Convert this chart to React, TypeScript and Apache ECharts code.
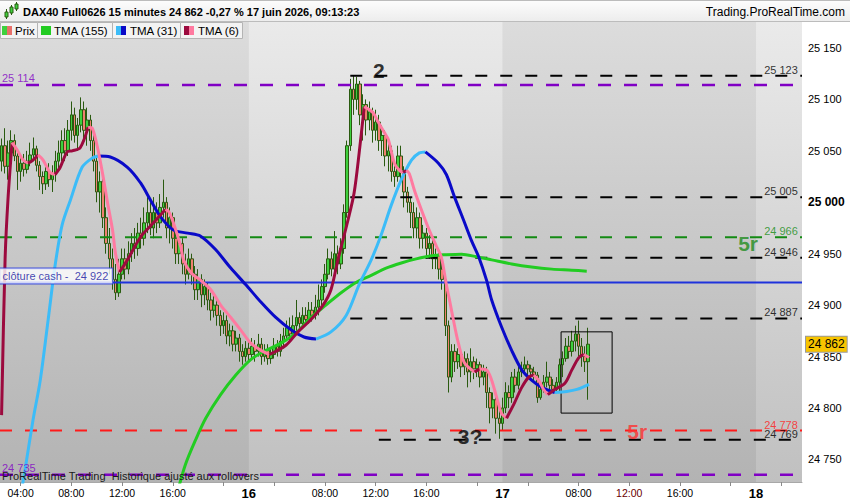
import React, { useEffect, useRef } from 'react';
import * as echarts from 'echarts';

const FONT = '"Liberation Sans", Arial, Helvetica, sans-serif';

const titleText = 'DAX40 Full0626 15 minutes 24 862 -0,27 % 17 juin 2026, 09:13:23';
const siteText = 'Trading.ProRealTime.com';
const footerText = 'ProRealTime Trading  Historique ajusté aux rollovers';
const legendNames = ['Prix', 'TMA (155)', 'TMA (31)', 'TMA (6)'];

// time axis
const dayNames = ['15', '16', '17', '18'];
const darkDays = ['15', '17'];
const firstDayStart = '02:30';
const sessionStart = '02:00';
const sessionEnd = '21:45';
const slotCount = 253;
const firstDayLabelTimes = ['04:00', '08:00', '12:00', '16:00'];
const labelTimes = ['08:00', '12:00', '16:00'];
const tickTimes = ['04:00', '08:00', '12:00', '16:00', '20:00'];
const highlightedSlot = '17 12:00';

// price axis
const yMin = 24728;
const yMax = 25175.3;
const yStep = 50;
const boldTick = 25000;

// candles: [open, close, low, high]
const candles = [
  [25040,25055,25030,25062],[25055,25035,25028,25072],[25035,25048,25022,25060],[25048,25060,25040,25070],[25060,25045,25040,25066],
  [25045,25030,25012,25050],[25030,25038,25020,25045],[25038,25032,25025,25047],[25032,25040,25028,25050],[25040,25046,25035,25058],
  [25046,25052,25040,25063],[25052,25036,25030,25055],[25036,25025,25012,25040],[25025,25018,25008,25030],[25018,25030,25012,25035],
  [25030,25022,25015,25038],[25022,25028,25010,25036],[25028,25040,25020,25050],[25040,25048,25032,25060],[25048,25060,25040,25070],
  [25060,25050,25040,25072],[25050,25070,25045,25080],[25070,25085,25060,25098],[25085,25065,25058,25092],[25065,25075,25050,25082],
  [25075,25090,25068,25102],[25090,25070,25060,25098],[25070,25080,25055,25092],[25080,25060,25050,25085],[25060,25040,25030,25068],
  [25040,25010,25000,25045],[25010,25020,24990,25030],[25020,24985,24975,25025],[24985,24960,24950,24995],[24960,24945,24930,24975],
  [24945,24925,24915,24955],[24925,24912,24905,24940],[24912,24930,24908,24945],[24930,24945,24925,24955],[24945,24935,24925,24955],
  [24935,24950,24930,24962],[24950,24960,24942,24970],[24960,24955,24945,24975],[24955,24970,24948,24980],[24970,24965,24955,24985],
  [24965,24980,24958,24995],[24980,24990,24970,25005],[24990,24975,24968,25000],[24975,24990,24965,25005],[24990,24980,24970,25000],
  [24980,24995,24975,25008],[24995,25000,24985,25022],[25000,24975,24965,25005],[24975,24985,24960,24995],[24985,24965,24955,24990],
  [24965,24950,24940,24975],[24950,24960,24940,24968],[24960,24940,24930,24965],[24940,24930,24920,24950],[24930,24945,24925,24955],
  [24945,24930,24920,24950],[24930,24915,24905,24938],[24915,24925,24905,24935],[24925,24910,24898,24930],[24910,24918,24900,24925],
  [24918,24905,24895,24922],[24905,24895,24885,24912],[24895,24900,24888,24910],[24900,24890,24880,24908],[24890,24880,24870,24895],
  [24880,24885,24872,24893],[24885,24870,24862,24890],[24870,24875,24860,24882],[24875,24862,24855,24880],[24862,24868,24855,24875],
  [24868,24855,24845,24872],[24855,24850,24842,24862],[24850,24858,24845,24865],[24858,24852,24845,24865],[24852,24860,24848,24868],
  [24860,24855,24845,24866],[24855,24862,24850,24872],[24862,24850,24842,24868],[24850,24856,24845,24862],[24856,24848,24842,24862],
  [24848,24852,24843,24858],[24852,24860,24848,24868],[24860,24855,24850,24866],[24855,24865,24850,24872],[24865,24870,24858,24878],
  [24870,24878,24865,24885],[24878,24872,24866,24888],[24872,24880,24868,24890],[24880,24888,24875,24905],[24888,24882,24875,24893],
  [24882,24890,24878,24898],[24890,24886,24880,24898],[24886,24895,24882,24903],[24895,24890,24884,24903],[24890,24898,24886,24910],
  [24898,24905,24890,24920],[24905,24918,24900,24925],[24918,24930,24912,24940],[24930,24945,24925,24955],[24945,24935,24928,24952],
  [24935,24950,24930,24972],[24950,24940,24930,24958],[24940,24955,24935,24965],[24955,24990,24950,24998],[24990,25055,24985,25060],
  [25055,25110,25050,25120],[25110,25100,25085,25123],[25100,25115,25090,25122],[25115,25085,25075,25118],[25085,25095,25060,25105],
  [25095,25080,25065,25100],[25080,25088,25070,25098],[25088,25070,25058,25092],[25070,25078,25060,25090],[25078,25060,25050,25085],
  [25060,25065,25045,25075],[25065,25045,25035,25070],[25045,25050,25030,25060],[25050,25030,25020,25055],[25030,25025,25015,25040],
  [25025,25045,25020,25055],[25045,25030,25020,25055],[25030,25010,24995,25035],[25010,25000,24990,25015],[25000,24990,24975,25005],
  [24990,24975,24965,25000],[24975,24985,24965,24995],[24985,24965,24955,24990],[24965,24970,24955,24978],[24970,24955,24945,24975],
  [24955,24960,24945,24968],[24960,24945,24935,24965],[24945,24948,24935,24955],[24948,24935,24925,24952],[24935,24925,24915,24945],
  [24925,24880,24870,24930],[24880,24830,24815,24885],[24830,24855,24825,24862],[24855,24845,24835,24862],[24845,24852,24838,24858],
  [24852,24840,24830,24857],[24840,24848,24832,24855],[24848,24835,24820,24853],[24835,24845,24825,24858],[24845,24838,24828,24850],
  [24838,24842,24830,24848],[24842,24830,24820,24845],[24830,24835,24822,24842],[24835,24815,24800,24840],[24815,24800,24785,24820],
  [24800,24808,24790,24815],[24808,24790,24775,24812],[24790,24785,24770,24800],[24785,24800,24778,24810],[24800,24815,24795,24825],
  [24815,24810,24800,24822],[24810,24830,24805,24835],[24830,24822,24815,24838],[24822,24835,24818,24840],[24835,24838,24830,24845],
  [24838,24842,24835,24850],[24842,24838,24832,24846],[24838,24835,24828,24842],[24835,24832,24825,24840],[24832,24810,24805,24835],
  [24810,24818,24808,24822],[24818,24825,24815,24832],[24825,24830,24820,24845],[24830,24822,24818,24835],[24822,24818,24815,24828],
  [24818,24825,24815,24830],[24825,24842,24815,24848],[24842,24848,24830,24855],[24848,24860,24845,24868],[24860,24855,24848,24870],
  [24855,24865,24850,24875],[24865,24872,24855,24880],[24872,24860,24850,24885],[24860,24850,24840,24868],[24850,24845,24835,24860],
  [24845,24862,24808,24878],
];

// moving averages: [bar position, price]
const tma155 = [
  [55.2,24715],[58,24745],[61.2,24769],[64.4,24790],[69.1,24813],[73.9,24832],[78.6,24847],[83.4,24856],[88.1,24863],
  [92.9,24873],[97.6,24888],[102.3,24900],[107.1,24912],[111.8,24922],[116.6,24929],[121.3,24936],[126.1,24941],
  [130.8,24945],[135.6,24948],[140.3,24949],[145.1,24949.5],[149.8,24947],[154.6,24944],[160.9,24940],[167.2,24937],
  [173.6,24935],[179.9,24934],[184.6,24933],
];
const tma31 = [
  [5.2,24700],[7.4,24740],[9.9,24788],[12.2,24827],[14.7,24886],[16.9,24939],[19.1,24978],[21.7,25002],[25.4,25034],
  [28.6,25043],[30.5,25045],[34.3,25044],[39.7,25034],[43.8,25019],[47,25002],[50.1,24986],[54.2,24973],[58.7,24970],
  [62.8,24967],[67.5,24954],[72.3,24936],[77,24920],[81.8,24903],[86.5,24888],[91.3,24876],[95.4,24869],[99.2,24867],
  [103.9,24874],[108.7,24890],[112.8,24920],[116.6,24944],[119.7,24968],[122.9,24997],[126.1,25022],[129.3,25041],
  [131.8,25048],[133.7,25049],[137.8,25038],[140.3,25027],[142.9,25005],[145.7,24983],[148.2,24963],[150.5,24947],
  [153,24924],[154.6,24905],[157.7,24879],[160.9,24856],[164.1,24837],[167.2,24827],[170.4,24820],[174.5,24815],
  [178.3,24816],[181.5,24818],[185.3,24823],
];
const tma6 = [
  [0,24793],[1.1,24944],[2,25002],[3.3,25058],[4.9,25051],[6.8,25041],[8.4,25038],[9.9,25041],[11.5,25046],
  [13.1,25041],[15.3,25029],[16.9,25027],[18.5,25034],[20.7,25049],[22.3,25050],[24.8,25053],[27.3,25073],
  [28.6,25072],[30.2,25054],[31.8,25029],[33.4,25000],[35,24973],[35.9,24951],[37.2,24932],[39.7,24944],
  [43.8,24966],[47.9,24980],[51.7,24993],[52.7,24991],[54.2,24980],[56.5,24957],[57.4,24944],[59.6,24932],
  [62.8,24924],[66,24915],[69.1,24900],[72.3,24888],[75.4,24876],[78.6,24863],[81.8,24856],[84.5,24852],
  [89.7,24861],[93.5,24874],[97.6,24886],[101.4,24900],[103.9,24915],[106.1,24944],[109.3,24983],[111.2,25009],
  [112.8,25048],[114.4,25093],[117.2,25087],[118.8,25078],[120.7,25068],[122,25061],[123.9,25038],[125.5,25031],
  [126.7,25029],[127.7,25031],[128.6,25028],[130.2,25012],[132.4,24993],[134.9,24973],[137.2,24957],[138.7,24947],
  [140.3,24920],[141.3,24905],[142.5,24886],[144.1,24863],[146,24844],[149.2,24835],[150.8,24838],[153,24837],
  [154.6,24827],[156.1,24811],[157.7,24795],[159.3,24790],[161.8,24805],[164.1,24820],[166.3,24830],[167.9,24832],
  [169.4,24827],[171,24818],[172.3,24813],[174.5,24818],[177.7,24824],[179.9,24837],[182.1,24849],[183.7,24852],
  [185.3,24849],
];

// horizontal levels
const purpleLevels = [25114, 24735];
const blackLevels = [25123, 25005, 24946, 24887, 24769];
const blackStarts = [110, 110, 110, 110, 119];
const greenLevel = 24966;
const redLevel = 24778;
const cashClose = 24922;
const cashLabel = 'clôture cash - ';
const lastPrice = 24862;
const boxBars = [176.5, 192.6];
const boxPrices = [24795, 24874];

// chart annotations [bar position, price, text]
const notes = [
  { at: [119, 25128.6], text: '2', color: '#000000' },
  { at: [147.8, 24772], text: '3?', color: '#000000' },
  { at: [235.5, 24960], text: '5r', color: '#1e8c1e' },
  { at: [200.5, 24777], text: '5r', color: '#ff3030' },
];

const C = {
  purple: '#8000c4',
  black: '#000000',
  green: '#138a13',
  red: '#ff1a1a',
  blue: '#1e32dc',
  tma155: '#22cc22',
  tma31Up: '#3cbcf8',
  tma31Down: '#0a0ac8',
  tma6Up: '#9c0a3e',
  tma6Down: '#ff7aa0',
  candleUp: '#3ed03e',
  candleDown: '#f08070',
  candleBorder: '#2a5a10',
};

const fmt = (v: number) => String(Math.round(v)).replace(/\B(?=(\d{3})+(?!\d))/g, ' ');

function buildSlots(): string[] {
  const out: string[] = [];
  const toMin = (t: string) => Number(t.slice(0, 2)) * 60 + Number(t.slice(3));
  const hhmm = (m: number) => String(Math.floor(m / 60)).padStart(2, '0') + ':' + String(m % 60).padStart(2, '0');
  for (let d = 0; d < dayNames.length && out.length < slotCount; d++) {
    const end = toMin(sessionEnd);
    for (let m = toMin(d === 0 ? firstDayStart : sessionStart); m <= end && out.length < slotCount; m += 15) {
      out.push(dayNames[d] + ' ' + hhmm(m));
    }
  }
  return out;
}

function splitByDirection(pts: number[][]) {
  const segs: { dir: number; pts: number[][] }[] = [];
  let cur = [pts[0]];
  let dir = 0;
  for (let i = 1; i < pts.length; i++) {
    const d = pts[i][1] >= pts[i - 1][1] ? 1 : -1;
    if (dir === 0 || d === dir) {
      cur.push(pts[i]);
      dir = d;
    } else {
      segs.push({ dir, pts: cur });
      cur = [pts[i - 1], pts[i]];
      dir = d;
    }
  }
  segs.push({ dir, pts: cur });
  return segs;
}

function buildOption() {
  const slots = buildSlots();
  const startIdx = (d: string) => slots.indexOf(d + ' ' + sessionStart);
  const xEnd = slotCount - 0.5;

  const bands = darkDays.map((d) => {
    const k = dayNames.indexOf(d);
    const start = k === 0 ? -0.5 : startIdx(d);
    const end = k + 1 < dayNames.length ? startIdx(dayNames[k + 1]) : xEnd;
    return [{ xAxis: start }, { xAxis: end }];
  });

  const vGrad = (a: string, b: string) => ({
    type: 'linear', x: 0, y: 0, x2: 0, y2: 1,
    colorStops: [{ offset: 0, color: a }, { offset: 1, color: b }],
  });

  const hLine = (from: number, value: number, color: string, width: number, dash: any, extra: any = {}) => ({
    type: 'line', xAxisIndex: 1, yAxisIndex: 0, silent: true, symbol: 'none', z: 3,
    data: [[from, value], [xEnd, value]],
    lineStyle: { color, width, type: dash },
    ...extra,
  });

  const series: any[] = [];

  // day bands (carried by the first purple level line)
  series.push(hLine(-0.5, purpleLevels[0], C.purple, 2.5, [13, 13], {
    markArea: {
      silent: true,
      z: 1,
      itemStyle: { color: vGrad('#dcdcdc', '#b3b3b3'), opacity: 1 },
      data: bands,
    },
  }));

  series.push({
    type: 'candlestick', xAxisIndex: 0, yAxisIndex: 0, data: candles, barWidth: 3, silent: true, z: 2,
    itemStyle: {
      color: C.candleUp, color0: C.candleDown,
      borderColor: C.candleBorder, borderColor0: C.candleBorder, borderWidth: 1,
    },
    markLine: {
      silent: true, symbol: ['none', 'none'], z: 20,
      lineStyle: { width: 0, color: 'rgba(0,0,0,0)' },
      data: [{ yAxis: lastPrice }],
      label: {
        show: true, position: 'end', distance: 4, formatter: () => fmt(lastPrice),
        backgroundColor: '#f7c400', borderColor: '#9a9a9a', borderWidth: 1,
        padding: [2, 2, 1, 2], color: '#000', fontSize: 12, fontFamily: FONT,
      },
    },
  });

  series.push(hLine(-0.5, purpleLevels[1], C.purple, 2.5, [13, 13]));
  series.push(hLine(-0.5, greenLevel, C.green, 2, [12, 13]));
  series.push(hLine(-0.5, redLevel, C.red, 2, [12, 13]));
  series.push(hLine(-0.5, cashClose, C.blue, 2, 'solid'));
  blackLevels.forEach((v, i) => series.push(hLine(blackStarts[i], v, C.black, 2, [12, 13])));

  // box
  series.push({
    type: 'line', xAxisIndex: 1, yAxisIndex: 0, silent: true, symbol: 'none', z: 3,
    data: [
      [boxBars[0], boxPrices[1]], [boxBars[1], boxPrices[1]], [boxBars[1], boxPrices[0]],
      [boxBars[0], boxPrices[0]], [boxBars[0], boxPrices[1]],
    ],
    lineStyle: { color: '#000', width: 1 },
  });

  const lineSeries = (pts: number[][], color: string) => ({
    type: 'line', xAxisIndex: 1, yAxisIndex: 0, silent: true, symbol: 'none', z: 4,
    smooth: 0.3, data: pts, lineStyle: { color, width: 3 },
  });

  series.push(lineSeries(tma155, C.tma155));
  splitByDirection(tma31).forEach((s) => series.push(lineSeries(s.pts, s.dir > 0 ? C.tma31Up : C.tma31Down)));
  splitByDirection(tma6).forEach((s) => series.push(lineSeries(s.pts, s.dir > 0 ? C.tma6Up : C.tma6Down)));

  // text labels tied to levels
  const rightX = slotCount - 1.5;
  const rightLabel = (v: number, color: string) => ({
    value: [rightX, v],
    label: {
      show: true, position: 'top', distance: 0, align: 'right', offset: [-1, 0],
      formatter: fmt(v), color, fontSize: 11, fontFamily: FONT,
    },
  });
  const leftLabel = (v: number, color: string) => ({
    value: [-0.5, v],
    label: {
      show: true, position: 'top', distance: 1, align: 'left', offset: [2, 0],
      formatter: fmt(v), color, fontSize: 11, fontFamily: FONT,
    },
  });
  const labelData: any[] = [
    ...purpleLevels.map((v) => leftLabel(v, C.purple)),
    rightLabel(greenLevel, '#158c15'),
    rightLabel(redLevel, C.red),
    ...blackLevels.map((v) => rightLabel(v, '#000')),
    {
      value: [-0.5, cashClose],
      label: {
        show: true, position: [0, -13.5], formatter: cashLabel + ' ' + fmt(cashClose),
        color: '#1414a0', fontSize: 11, fontFamily: FONT, backgroundColor: '#ffffff',
        borderColor: C.blue, borderWidth: 1, padding: [2, 4, 2, 3],
      },
    },
    ...notes.map((n) => ({
      value: n.at,
      label: {
        show: true, position: 'inside', formatter: n.text, color: n.color,
        fontSize: 21, fontWeight: 'bold', fontFamily: FONT,
      },
    })),
  ];
  series.push({
    type: 'scatter', xAxisIndex: 1, yAxisIndex: 0, silent: true, z: 6, symbolSize: 1,
    itemStyle: { color: 'rgba(0,0,0,0)' }, data: labelData, clip: false,
  });

  const tabs = [
    { x: 0, w: 37, icon: 2, text: 15, colors: [C.candleUp, '#e8706a'] },
    { x: 37, w: 75, icon: 4, text: 17, colors: [C.tma155, C.tma155] },
    { x: 112, w: 68, icon: 4, text: 18, colors: [C.tma31Up, C.tma31Down] },
    { x: 180, w: 62, icon: 4, text: 18, colors: [C.tma6Up, C.tma6Down] },
  ];
  const graphic: any[] = [
    {
      type: 'rect', z: 100, shape: { x: 0, y: 0, width: 850, height: 22 },
      style: { fill: new echarts.graphic.LinearGradient(0, 0, 0, 1, [{ offset: 0, color: '#fdfdfd' }, { offset: 1, color: '#ececec' }]) },
    },
    { type: 'line', z: 101, shape: { x1: 0, y1: 0.5, x2: 850, y2: 0.5 }, style: { stroke: '#bcbcbc', lineWidth: 1 } },
    { type: 'line', z: 101, shape: { x1: 0, y1: 21.5, x2: 850, y2: 21.5 }, style: { stroke: '#bcbcbc', lineWidth: 1 } },
    // small candlestick icon
    { type: 'line', z: 101, shape: { x1: 6.5, y1: 9, x2: 6.5, y2: 19 }, style: { stroke: '#2a5a10', lineWidth: 1 } },
    { type: 'rect', z: 102, shape: { x: 5, y: 12, width: 3, height: 5 }, style: { fill: '#3ed03e', stroke: '#2a5a10', lineWidth: 1 } },
    { type: 'line', z: 101, shape: { x1: 11.5, y1: 5, x2: 11.5, y2: 15 }, style: { stroke: '#2a5a10', lineWidth: 1 } },
    { type: 'rect', z: 102, shape: { x: 10, y: 7, width: 3, height: 6 }, style: { fill: '#3ed03e', stroke: '#2a5a10', lineWidth: 1 } },
    { type: 'line', z: 101, shape: { x1: 16.5, y1: 2, x2: 16.5, y2: 11 }, style: { stroke: '#2a5a10', lineWidth: 1 } },
    { type: 'rect', z: 102, shape: { x: 15, y: 4, width: 3, height: 5 }, style: { fill: '#3ed03e', stroke: '#2a5a10', lineWidth: 1 } },
    {
      type: 'text', z: 102, x: 23, y: 12,
      style: { text: titleText, font: 'bold 11px ' + FONT, fill: '#000', verticalAlign: 'middle', align: 'left' },
    },
    {
      type: 'text', z: 102, x: 845, y: 12,
      style: { text: siteText, font: '12px ' + FONT, fill: '#000', verticalAlign: 'middle', align: 'right' },
    },
    {
      type: 'text', z: 102, x: 2, y: 476,
      style: { text: footerText, font: '11px ' + FONT, fill: '#1a1a1a', verticalAlign: 'middle', align: 'left' },
    },
  ];
  tabs.forEach((t, i) => {
    graphic.push({
      type: 'rect', z: 100, shape: { x: t.x + 0.5, y: 22.5, width: t.w, height: 16 },
      style: { fill: '#f3f3f3', stroke: '#b4b4b4', lineWidth: 1 },
    });
    graphic.push({ type: 'rect', z: 101, shape: { x: t.x + t.icon, y: 26, width: 5, height: 9 }, style: { fill: t.colors[0] } });
    graphic.push({ type: 'rect', z: 101, shape: { x: t.x + t.icon + 5, y: 26, width: 5, height: 9 }, style: { fill: t.colors[1] } });
    graphic.push({
      type: 'text', z: 101, x: t.x + t.text, y: 30.5,
      style: { text: legendNames[i], font: '11.5px ' + FONT, fill: '#000', verticalAlign: 'middle', align: 'left' },
    });
  });

  const showLabel = (v: string) => {
    const t = v.slice(3);
    if (t === sessionStart) return true;
    return v.slice(0, 2) === dayNames[0] ? firstDayLabelTimes.includes(t) : labelTimes.includes(t);
  };

  return {
    animation: false,
    backgroundColor: '#ffffff',
    textStyle: { fontFamily: FONT },
    grid: {
      left: 0, right: 48, top: 22, bottom: 18, show: true, borderWidth: 0,
      backgroundColor: vGrad('#eaeaea', '#c0c0c0'), containLabel: false, outerBoundsMode: 'none',
    },
    xAxis: [
      {
        type: 'category', data: slots, boundaryGap: true, gridIndex: 0,
        axisLine: { show: true, lineStyle: { color: '#a8a8a8' } },
        axisTick: {
          show: true, length: 4, alignWithLabel: true, lineStyle: { color: '#8a8a8a' },
          interval: (i: number, v: string) => tickTimes.includes(v.slice(3)),
        },
        axisLabel: {
          interval: (i: number, v: string) => showLabel(v),
          formatter: (v: string) => {
            if (v.slice(3) === sessionStart) return '{day|' + v.slice(0, 2) + '}';
            if (v === highlightedSlot) return '{hl|' + v.slice(3) + '}';
            return v.slice(3);
          },
          margin: 5, fontSize: 10.5, color: '#000', fontFamily: FONT,
          rich: {
            day: { fontWeight: 'bold', fontSize: 13, color: '#000', fontFamily: FONT },
            hl: { color: '#6a0000', fontSize: 10.5, fontFamily: FONT },
          },
        },
        splitLine: { show: false },
      },
      { type: 'value', gridIndex: 0, min: -0.5, max: xEnd, show: false },
    ],
    yAxis: {
      type: 'value', position: 'right', min: yMin, max: yMax, splitNumber: 9,
      axisLine: { show: true, lineStyle: { color: '#a8a8a8' } },
      axisTick: { show: true, length: 4, lineStyle: { color: '#8a8a8a' } },
      splitLine: { show: false },
      axisLabel: {
        margin: 6, fontSize: 11, color: '#000', fontFamily: FONT, showMinLabel: false, showMaxLabel: false,
        formatter: (v: number) => {
          if (Math.abs(v / yStep - Math.round(v / yStep)) > 1e-6) return '';
          return Math.round(v) === boldTick ? '{b|' + fmt(v) + '}' : fmt(v);
        },
        rich: { b: { fontWeight: 'bold', fontSize: 12, color: '#000', fontFamily: FONT } },
      },
    },
    graphic,
    series,
  };
}

export default function App() {
  const ref = useRef<HTMLDivElement>(null);
  useEffect(() => {
    if (!ref.current) return;
    const chart = echarts.init(ref.current, null, { renderer: 'svg' });
    chart.setOption(buildOption() as any);
    return () => chart.dispose();
  }, []);
  return (
    <div
      ref={ref}
      style={{ position: 'fixed', left: 0, top: 0, width: 850, height: 500, background: '#ffffff' }}
    />
  );
}
